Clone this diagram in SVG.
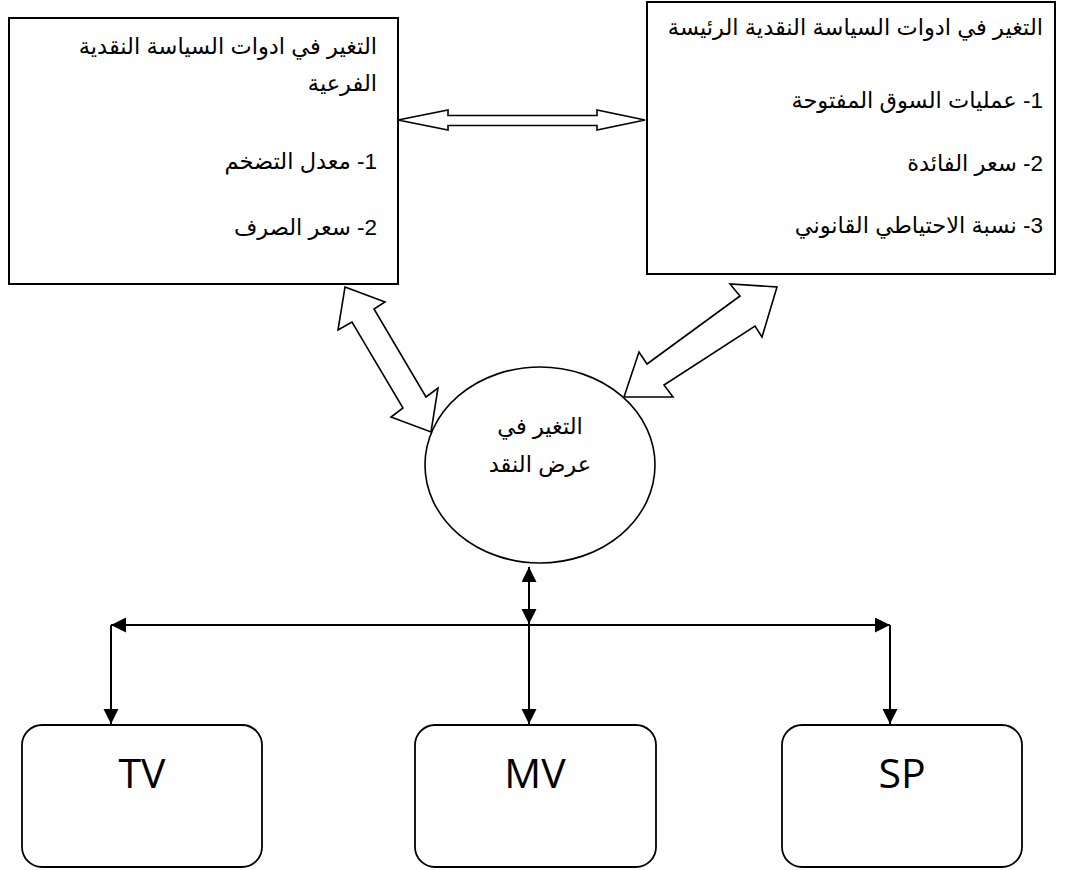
<svg xmlns="http://www.w3.org/2000/svg" width="1066" height="870" viewBox="0 0 1066 870">
<style>
.box{fill:#fff;stroke:#000;stroke-width:2}
.rbox{fill:#fff;stroke:#000;stroke-width:1.8}
.blk{fill:#fff;stroke:#000;stroke-width:1.6;stroke-linejoin:miter}
.ar{font-family:"Liberation Sans","DejaVu Sans",sans-serif;font-size:22.5px;fill:#000}
.lat{font-family:"Open Sans","Liberation Sans",sans-serif;font-size:41px;fill:#000;text-anchor:middle}
.ln{stroke:#000;stroke-width:2;fill:none}
</style>
<defs>
<marker id="ah" markerUnits="userSpaceOnUse" markerWidth="16" markerHeight="16" refX="15" refY="7.5" orient="auto-start-reverse">
<path d="M0,0 L15,7.5 L0,15 z" fill="#000"/>
</marker>
</defs>
<g id="sub-tools">
<rect class="box" x="9" y="18" width="389" height="266"/>
<text class="ar" direction="rtl" x="377" y="54" text-anchor="start">التغير في ادوات السياسة النقدية</text>
<text class="ar" direction="rtl" x="377" y="91" text-anchor="start">الفرعية</text>
<text class="ar" direction="rtl" x="377" y="169" text-anchor="start">1- معدل التضخم</text>
<text class="ar" direction="rtl" x="377" y="235" text-anchor="start">2- سعر الصرف</text>
</g>
<g id="main-tools">
<rect class="box" x="647" y="2" width="408" height="272"/>
<text class="ar" direction="rtl" x="1043" y="35" text-anchor="start">التغير في ادوات السياسة النقدية الرئيسة</text>
<text class="ar" direction="rtl" x="1043" y="108" text-anchor="start">1- عمليات السوق المفتوحة</text>
<text class="ar" direction="rtl" x="1043" y="171" text-anchor="start">2- سعر الفائدة</text>
<text class="ar" direction="rtl" x="1043" y="233" text-anchor="start">3- نسبة الاحتياطي القانوني</text>
</g>
<g id="money-supply">
<ellipse cx="540" cy="465" rx="115" ry="98" fill="#fff" stroke="#000" stroke-width="1.6"/>
<text class="ar" x="540" y="434" text-anchor="middle" direction="rtl">التغير في</text>
<text class="ar" x="540" y="472" text-anchor="middle" direction="rtl">عرض النقد</text>
</g>
<g id="tv">
<rect class="rbox" x="22" y="725" width="240" height="142" rx="20" ry="20"/>
<text class="lat" x="142" y="788">TV</text>
</g>
<g id="mv">
<rect class="rbox" x="415" y="725" width="241" height="142" rx="20" ry="20"/>
<text class="lat" x="535" y="788">MV</text>
</g>
<g id="sp">
<rect class="rbox" x="782" y="725" width="240" height="142" rx="20" ry="20"/>
<text class="lat" x="902" y="788">SP</text>
</g>
<g id="connectors">
<polygon class="blk" points="398,120 448,110 448,115.5 597,115.5 597,110 645,120 597,130 597,125.5 448,125.5 448,130"/>
<polygon class="blk" points="345,287 385,302 374,309 426,397 438,388 431,432 391,417 403,408 352,322 338,330"/>
<polygon class="blk" points="624,397 639,352 647,364 740,296 730,284 777,287 762,337 755,326 664,385 673,397"/>
<line class="ln" x1="529" y1="567" x2="529" y2="624" marker-start="url(#ah)" marker-end="url(#ah)"/>
<line class="ln" x1="111" y1="625" x2="890" y2="625" marker-start="url(#ah)" marker-end="url(#ah)"/>
<line class="ln" x1="111" y1="625" x2="111" y2="724" marker-end="url(#ah)"/>
<line class="ln" x1="529" y1="625" x2="529" y2="724" marker-end="url(#ah)"/>
<line class="ln" x1="890" y1="625" x2="890" y2="724" marker-end="url(#ah)"/>
</g>
</svg>
